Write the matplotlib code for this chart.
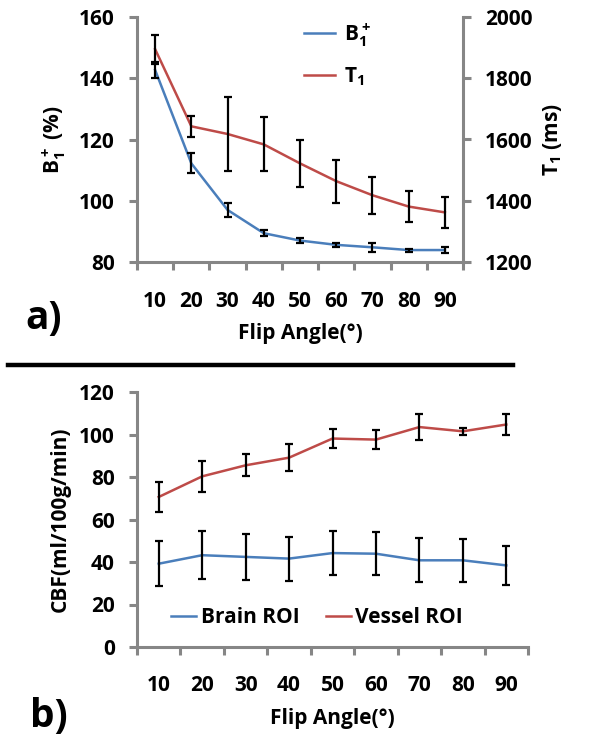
import matplotlib
matplotlib.use("Agg")
import matplotlib.pyplot as plt
from matplotlib.lines import Line2D
import numpy as np

plt.rcParams['font.family'] = ['Open Sans', 'DejaVu Sans']
plt.rcParams['font.weight'] = 'bold'
plt.rcParams['axes.labelweight'] = 'bold'
plt.rcParams['mathtext.fontset'] = 'custom'
plt.rcParams['mathtext.rm'] = 'Open Sans:bold'
plt.rcParams['mathtext.default'] = 'regular'

flip_angles = ["10", "20", "30", "40", "50", "60", "70", "80", "90"]

b1_vals = [142.7, 112.2, 97.0, 89.4, 87.0, 85.6, 84.8, 83.9, 83.9]
b1_err = [2.5, 3.3, 2.4, 1.0, 0.8, 0.7, 1.5, 0.5, 1.0]
t1_vals = [1895, 1643, 1618, 1584, 1522, 1464, 1418, 1381, 1362]
t1_err = [47, 34, 120, 88, 76, 70, 61, 52, 51]

vessel_vals = [70.6, 80.3, 85.5, 89.1, 98.1, 97.6, 103.5, 101.5, 104.7]
vessel_err = [7.2, 7.3, 5.2, 6.2, 4.5, 4.3, 6.0, 1.6, 5.1]
brain_vals = [39.2, 43.2, 42.4, 41.6, 44.2, 43.9, 40.8, 40.8, 38.4]
brain_err = [10.7, 11.2, 10.7, 10.4, 10.4, 10.1, 10.4, 10.0, 9.1]

BLUE = '#4a7ebb'
RED = '#be4b48'
GRAY = '#868686'
FS = 15

W, H = 604, 749
fig = plt.figure(figsize=(W / 100, H / 100), dpi=100)


def px_axes(l, t, r, b):
    return fig.add_axes([l / W, 1 - b / H, (r - l) / W, (b - t) / H])


def style_cat_x(ax, n, pad):
    ax.set_xlim(-0.5, n - 0.5)
    ax.set_xticks(np.arange(-0.5, n, 1.0))
    ax.set_xticklabels([])
    ax.set_xticks(np.arange(n), minor=True)
    ax.set_xticklabels(flip_angles, minor=True)
    ax.tick_params(axis='x', which='major', length=6, width=2.2, color=GRAY, direction='out')
    ax.tick_params(axis='x', which='minor', length=0, pad=pad, labelsize=FS)


def style_spines(ax, sides):
    for s, sp in ax.spines.items():
        if s in sides:
            sp.set_color(GRAY)
            sp.set_linewidth(2.2)
        else:
            sp.set_visible(False)


x = np.arange(len(flip_angles))
eb_kw = dict(fmt='none', ecolor='black', elinewidth=1.6, capsize=3, capthick=1.6, zorder=5)

# ---- top panel ----
ax1 = px_axes(137, 17, 463, 262)
ax2 = ax1.twinx()
ax1.plot(x, b1_vals, color=BLUE, lw=1.8, zorder=3)
ax1.errorbar(x, b1_vals, yerr=b1_err, **eb_kw)
ax2.plot(x, t1_vals, color=RED, lw=1.8, zorder=3)
ax2.errorbar(x, t1_vals, yerr=t1_err, **eb_kw)
ax1.set_ylim(80, 160)
ax1.set_yticks([80, 100, 120, 140, 160])
ax2.set_ylim(1200, 2000)
ax2.set_yticks([1200, 1400, 1600, 1800, 2000])
style_cat_x(ax1, 9, 21)
style_spines(ax1, ['left', 'bottom'])
style_spines(ax2, ['right'])
ax1.tick_params(axis='y', length=6, width=2.2, color=GRAY, labelsize=FS, pad=10)
ax2.tick_params(axis='y', length=6, width=2.2, color=GRAY, labelsize=FS, pad=10)
ax1.set_ylabel('B$_1^+$ (%)', fontsize=FS, labelpad=8)
ax2.set_ylabel('T$_1$ (ms)', fontsize=FS, labelpad=6)
ax1.set_xlabel('Flip Angle(°)', fontsize=FS, labelpad=8)
handles = [Line2D([], [], color=BLUE, lw=1.8), Line2D([], [], color=RED, lw=1.8)]
ax1.legend(handles, ['B$_1^+$', 'T$_1$'], loc='upper left', bbox_to_anchor=(0.455, 1.06),
           frameon=False, fontsize=FS, handlelength=1.5, handletextpad=0.4, labelspacing=0.8)

# ---- bottom panel ----
ax3 = px_axes(137, 392, 528, 647)
ax3.plot(x, brain_vals, color=BLUE, lw=1.8, zorder=3, label='Brain ROI')
ax3.errorbar(x, brain_vals, yerr=brain_err, **eb_kw)
ax3.plot(x, vessel_vals, color=RED, lw=1.8, zorder=3, label='Vessel ROI')
ax3.errorbar(x, vessel_vals, yerr=vessel_err, **eb_kw)
ax3.set_ylim(0, 120)
ax3.set_yticks(np.arange(0, 121, 20))
style_cat_x(ax3, 9, 20)
style_spines(ax3, ['left', 'bottom'])
ax3.tick_params(axis='y', length=6, width=2.2, color=GRAY, labelsize=FS, pad=10)
ax3.set_ylabel('CBF(ml/100g/min)', fontsize=FS, labelpad=6)
ax3.set_xlabel('Flip Angle(°)', fontsize=FS, labelpad=9)
ax3.legend(loc='lower left', bbox_to_anchor=(0.04, 0.0), ncol=2, frameon=False, fontsize=FS,
           handlelength=1.2, handletextpad=0.2, columnspacing=1.3)

# panel labels and separator
fig.text(25 / W, 1 - 318 / H, 'a)', fontsize=28, fontweight='bold', va='center', ha='left')
fig.text(30 / W, 1 - 716 / H, 'b)', fontsize=28, fontweight='bold', va='center', ha='left')
fig.add_artist(Line2D([8 / W, 513 / W], [1 - 365 / H, 1 - 365 / H], color='black', lw=3.2,
                      transform=fig.transFigure))

fig.savefig('out.png', dpi=100)
